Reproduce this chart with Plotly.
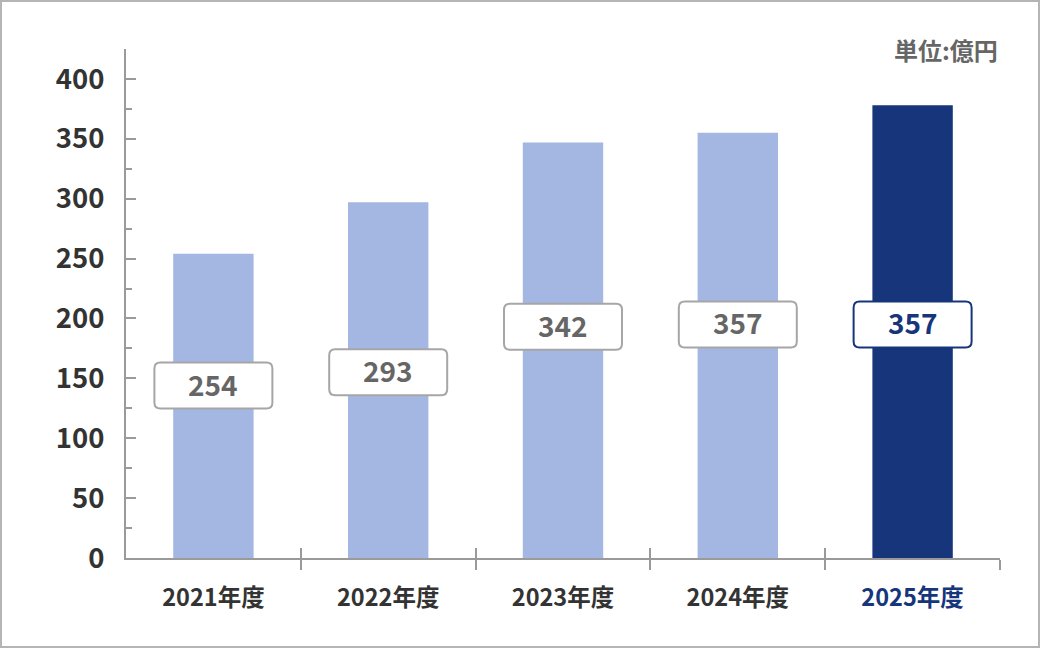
import plotly.graph_objects as go

YEARS = ["2021年度", "2022年度", "2023年度", "2024年度", "2025年度"]
BAR_VALUES = [254, 297, 347, 355, 378]
LABEL_VALUES = [254, 293, 342, 357, 357]
LABEL_HEIGHTS = [144, 155, 193, 195, 195]
HIGHLIGHT = "2025年度"

LIGHT = "#a3b7e2"
DARK = "#17357b"
AXIS_GREY = "#9a9a9a"
FONT = "Noto Sans CJK JP"

W, H = 1040, 648
M = {"l": 126, "r": 40, "t": 49, "b": 90}
plot_w = W - M["l"] - M["r"]
plot_h = H - M["t"] - M["b"]

positions = list(range(len(YEARS)))
colors = [DARK if y == HIGHLIGHT else LIGHT for y in YEARS]
ticktext = [
    f'<span style="color:{DARK}">{y}</span>' if y == HIGHLIGHT else y for y in YEARS
]

fig = go.Figure()
fig.add_trace(
    go.Bar(
        x=positions,
        y=BAR_VALUES,
        width=0.46,
        marker={"color": colors, "line": {"width": 0}},
        hoverinfo="skip",
        showlegend=False,
    )
)
# dummy trace so the overlaid axis (upward ticks) is drawn
fig.add_trace(
    go.Scatter(x=[None], y=[None], xaxis="x2", showlegend=False, hoverinfo="skip")
)


def rounded_box(w, h, r):
    a, b = w / 2, h / 2
    return (
        f"M {-a + r},{b} L {a - r},{b} Q {a},{b} {a},{b - r} "
        f"L {a},{-b + r} Q {a},{-b} {a - r},{-b} L {-a + r},{-b} "
        f"Q {-a},{-b} {-a},{-b + r} L {-a},{b - r} Q {-a},{b} {-a + r},{b} Z"
    )


shapes = []
annotations = []
for pos, year, label, ly in zip(positions, YEARS, LABEL_VALUES, LABEL_HEIGHTS):
    edge = DARK if year == HIGHLIGHT else "#a6a6a6"
    text_color = DARK if year == HIGHLIGHT else "#666666"
    shapes.append(
        dict(
            type="path",
            xref="x",
            yref="y",
            xsizemode="pixel",
            ysizemode="pixel",
            xanchor=pos,
            yanchor=ly,
            path=rounded_box(118, 46, 6),
            line={"color": edge, "width": 2},
            fillcolor="white",
            layer="above",
        )
    )
    annotations.append(
        dict(
            x=pos,
            y=ly,
            xref="x",
            yref="y",
            yshift=2,
            text=str(label),
            showarrow=False,
            font={"family": FONT, "size": 28, "color": text_color, "weight": "bold"},
        )
    )

annotations.append(
    dict(
        x=1,
        y=1 - 1 / plot_h,
        xref="paper",
        yref="paper",
        xanchor="right",
        yanchor="middle",
        text="単位:億円",
        showarrow=False,
        font={"family": FONT, "size": 24, "color": "#666666", "weight": "bold"},
    )
)

# outer frame of the picture
shapes.append(
    dict(
        type="rect",
        xref="paper",
        yref="paper",
        x0=(1 - M["l"]) / plot_w,
        x1=(W - 1 - M["l"]) / plot_w,
        y0=(1 - M["b"]) / plot_h,
        y1=(H - 1 - M["b"]) / plot_h,
        line={"color": "#b5b5b5", "width": 2},
        layer="below",
    )
)

boundaries = [p + 0.5 for p in positions]

fig.update_layout(
    width=W,
    height=H,
    margin=M,
    plot_bgcolor="white",
    paper_bgcolor="white",
    font={"family": FONT},
    shapes=shapes,
    annotations=annotations,
    xaxis=dict(
        range=[-0.5, len(YEARS) - 0.5],
        tickvals=positions,
        ticktext=ticktext,
        ticks="",
        showgrid=False,
        zeroline=False,
        showline=True,
        linecolor=AXIS_GREY,
        linewidth=2,
        tickfont={"family": FONT, "size": 23.5, "color": "#333333", "weight": "bold"},
        ticklabelstandoff=18,
        minor=dict(
            tickvals=boundaries,
            ticks="outside",
            ticklen=10,
            tickwidth=2,
            tickcolor=AXIS_GREY,
            showgrid=False,
        ),
        fixedrange=True,
    ),
    xaxis2=dict(
        overlaying="x",
        side="bottom",
        range=[-0.5, len(YEARS) - 0.5],
        tickvals=boundaries,
        ticks="inside",
        ticklen=10,
        tickwidth=2,
        tickcolor=AXIS_GREY,
        showticklabels=False,
        showgrid=False,
        zeroline=False,
        showline=False,
    ),
    yaxis=dict(
        range=[0, 425],
        tick0=0,
        dtick=50,
        ticks="inside",
        ticklen=10,
        tickwidth=2,
        tickcolor=AXIS_GREY,
        showgrid=False,
        zeroline=False,
        showline=True,
        linecolor=AXIS_GREY,
        linewidth=2,
        tickfont={"family": FONT, "size": 27.5, "color": "#333333", "weight": "bold"},
        ticklabelstandoff=14,
        minor=dict(
            dtick=25,
            ticks="inside",
            ticklen=6,
            tickwidth=2,
            tickcolor=AXIS_GREY,
            showgrid=False,
        ),
        fixedrange=True,
    ),
)

fig.write_html(
    "out.html",
    config={"displayModeBar": False},
    post_script="document.body.style.margin='0';document.body.style.overflow='hidden';",
)
